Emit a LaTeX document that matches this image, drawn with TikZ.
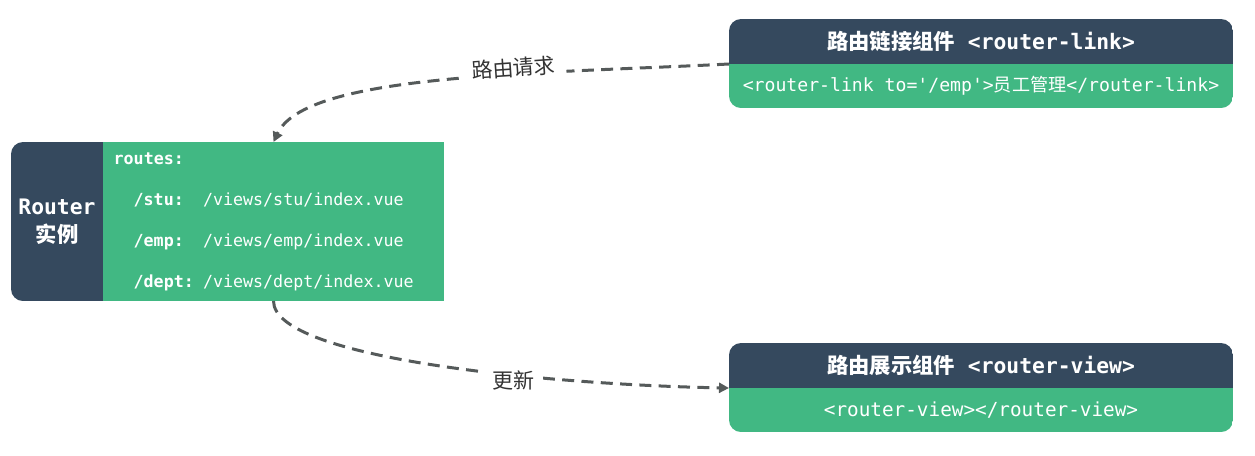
\documentclass[tikz,border=0pt]{standalone}
\usepackage{fontspec}
\setmonofont{DejaVu Sans Mono}
\newfontfamily\cjk{Noto Sans CJK SC}
\usetikzlibrary{arrows.meta,positioning}

\definecolor{vuedark}{HTML}{35495E}
\definecolor{vuegreen}{HTML}{41B883}
\definecolor{flowgray}{HTML}{555A5A}

\newcommand{\route}[2]{\hspace*{15pt}\makebox[52pt][l]{\textbf{#1}}#2}

\begin{document}
\begin{tikzpicture}[x=0.75pt,y=-0.75pt,>={Triangle[length=7.5pt,width=7.5pt]},
        box/.style={inner sep=0pt,outer sep=0pt,text=white},
        darkbox/.style={box,fill=vuedark},
        greenbox/.style={box,fill=vuegreen},
        title/.style={darkbox,anchor=north west,minimum width=378pt,minimum height=33.75pt,
            font=\fontsize{16}{19}\selectfont\bfseries\ttfamily},
        code/.style={greenbox,minimum width=378pt,minimum height=33pt,
            font=\fontsize{14.5}{17}\selectfont\ttfamily},
        flow/.style={->,flowgray,line width=2.25pt,dash pattern=on 9pt off 5.5pt},
        lbl/.style={fill=white,text=black!80,inner xsep=8pt,inner ysep=2pt,
            font=\cjk\fontsize{15.75}{18}\selectfont}]

  \useasboundingbox (0,0) rectangle (1255,455);

  % router instance
  \begin{scope}
    \clip[rounded corners=9pt] (11,142) rectangle (470,301);
    \node[darkbox,anchor=north west,minimum width=69pt,minimum height=119.25pt,align=center,
        font=\fontsize{16}{21}\selectfont\bfseries\ttfamily] (router) at (11,142) {Router\\{\cjk 实例}};
    \node[greenbox,anchor=north west,text width=239.75pt,inner xsep=8pt,minimum height=119.25pt,
        align=left,font=\fontsize{12.5}{30.75}\selectfont\ttfamily] (routes) at (router.north east)
        {\textbf{routes:}\\
         \route{/stu:}{/views/stu/index.vue}\\
         \route{/emp:}{/views/emp/index.vue}\\
         \route{/dept:}{/views/dept/index.vue}};
  \end{scope}

  % router-link
  \begin{scope}
    \clip[rounded corners=9pt] (729,19) rectangle (1233,108);
    \node[title] (linkhead) at (729,19) {{\cjk 路由链接组件}~<router-link>};
    \node[code,below=0pt of linkhead,font=\fontsize{13.6}{16}\selectfont\ttfamily] (linkbody)
        {<router-link to='/emp'>{\cjk 员工管理}</router-link>};
  \end{scope}

  % router-view
  \begin{scope}
    \clip[rounded corners=9pt] (729,343) rectangle (1233,432);
    \node[title] (viewhead) at (729,343) {{\cjk 路由展示组件}~<router-view>};
    \node[code,below=0pt of viewhead] (viewbody) {<router-view></router-view>};
  \end{scope}

  \draw[flow] (linkbody.north west) .. controls +(-200,10) and +(32,-68) ..
      node[lbl,sloped,pos=0.36,yshift=5pt] (asklbl) {路由请求} (routes.north);
  \draw[flow] (routes.south) .. controls +(0,59) and +(-169,-3) ..
      node[lbl,pos=0.63,inner xsep=6pt,yshift=-4pt] (updlbl) {更新} (viewbody.north west);

\end{tikzpicture}
\end{document}
